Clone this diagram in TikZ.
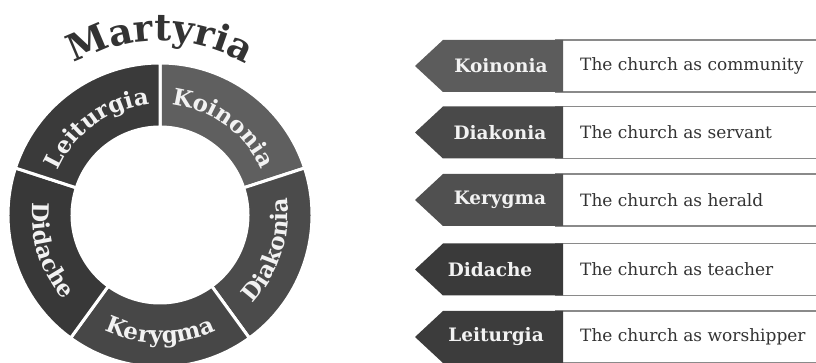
\documentclass[tikz,border=0pt]{standalone}
\usepackage{fontspec}
\setmainfont{DejaVu Serif}
\usetikzlibrary{decorations.text}
\definecolor{ringK}{HTML}{5F5F5F}
\definecolor{ringD}{HTML}{4B4B4B}
\definecolor{ringKe}{HTML}{474747}
\definecolor{ringDi}{HTML}{383838}
\definecolor{ringL}{HTML}{3A3A3A}
\definecolor{boxK}{HTML}{5C5C5C}
\definecolor{boxD}{HTML}{494949}
\definecolor{boxKe}{HTML}{505050}
\definecolor{boxDi}{HTML}{3A3A3A}
\definecolor{boxL}{HTML}{3C3C3C}
\definecolor{mart}{HTML}{333333}
\definecolor{bordergray}{HTML}{8A8A8A}
\definecolor{desctext}{HTML}{333333}
\definecolor{labtext}{HTML}{F2F2F2}
\newcommand\ringfont{\bfseries\fontsize{23}{27}\selectfont}
\newcommand\martfont{\bfseries\fontsize{37}{44}\selectfont}
\tikzset{
  sector/.style={draw=white, line width=3pt},
  lab/.style={text=labtext, font=\bfseries\fontsize{18.5}{22}\selectfont, inner sep=0pt},
  desc/.style={text=desctext, font=\fontsize{17}{21}\selectfont, inner sep=0pt, anchor=west},
  descbox/.style={draw=bordergray, line width=1.5pt, fill=white},
}
\begin{document}
\begin{tikzpicture}[x=1pt,y=1pt]
\useasboundingbox (0,0) rectangle (816,363);
\coordinate (O) at (160,148);
% ring sectors
\foreach \a/\b/\c in {18/90/ringK, -54/18/ringD, -126/-54/ringKe, 162/234/ringDi, 90/162/ringL}
  \filldraw[sector, fill=\c] ([shift={(\a:152)}]O) arc[start angle=\a, end angle=\b, radius=152]
     -- ([shift={(\b:88)}]O) arc[start angle=\b, end angle=\a, radius=88] -- cycle;
% ring labels (outer-facing)
\path[decorate, decoration={text along path, text align=center, text color=labtext, text={|\ringfont|Koinonia}}]
  ([shift={(90:111)}]O) arc[start angle=90, end angle=18, radius=111];
\path[decorate, decoration={text along path, text align=center, text color=labtext, text={|\ringfont|Leiturgia}}]
  ([shift={(162:111)}]O) arc[start angle=162, end angle=90, radius=111];
% ring labels (inner-facing)
\path[decorate, decoration={text along path, text align=center, text color=labtext, text={|\ringfont|Didache}}]
  ([shift={(162:128)}]O) arc[start angle=162, end angle=234, radius=128];
\path[decorate, decoration={text along path, text align=center, text color=labtext, text={|\ringfont|Kerygma}}]
  ([shift={(234:128)}]O) arc[start angle=234, end angle=306, radius=128];
\path[decorate, decoration={text along path, text align=center, text color=labtext, text={|\ringfont|Diakonia}}]
  ([shift={(-54:128)}]O) arc[start angle=-54, end angle=18, radius=128];
% title
\path[decorate, decoration={text along path, text align=center, text color=mart, text={|\martfont|Martyria}}]
  ([shift={(150:174)}]O) arc[start angle=150, end angle=30, radius=174];
% right-hand rows
\foreach \ty/\tc/\tl/\tx/\td [count=\i] in {
   297/boxK/Koinonia/501/The church as community,
   230.5/boxD/Diakonia/500/The church as servant,
   163/boxKe/Kerygma/500/The church as herald,
   93.5/boxDi/Didache/490/The church as teacher,
   26/boxL/Leiturgia/496/The church as worshipper}{
  \draw[descbox] (556,\ty-26) rectangle (840,\ty+26);
  \fill[\tc] (415,\ty) -- (443,\ty+26) -- (563,\ty+26) -- (563,\ty-26) -- (443,\ty-26) -- cycle;
  \node[lab] (lab\i) at (\tx,\ty) {\tl};
  \node[desc] (desc\i) at (580,\ty) {\td};
}
\end{tikzpicture}
\end{document}
